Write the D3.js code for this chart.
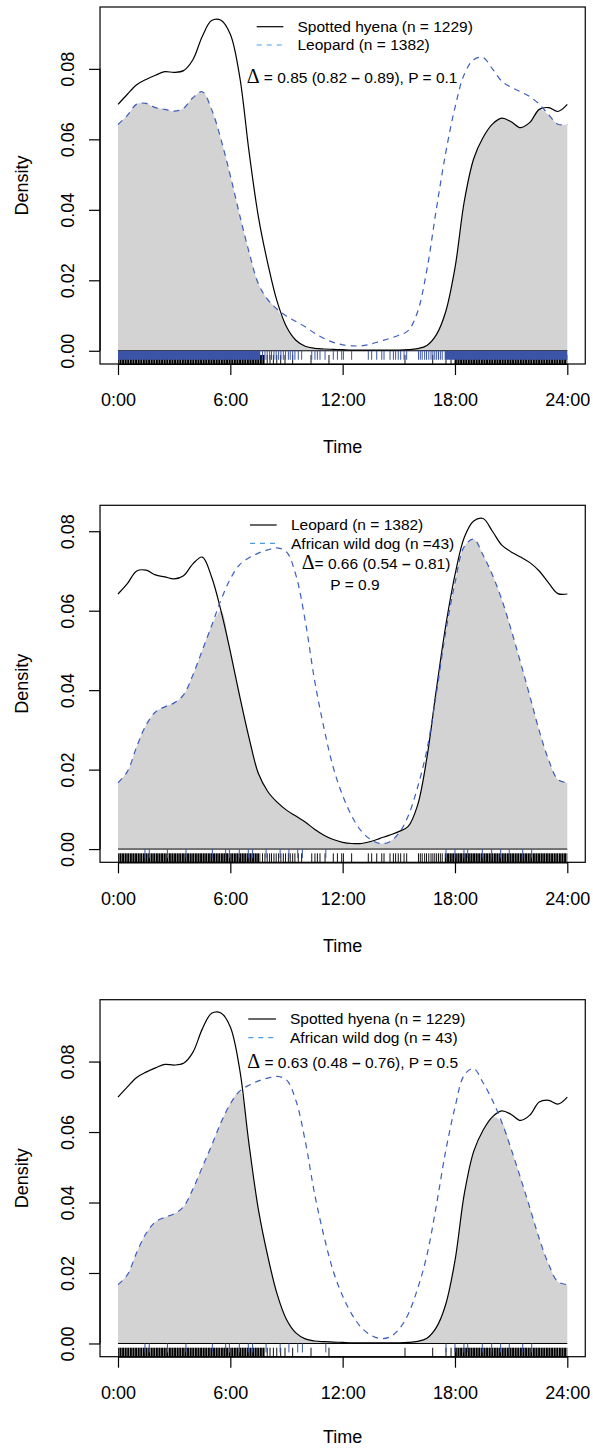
<!DOCTYPE html>
<html>
<head>
<meta charset="utf-8">
<script src="https://cdn.jsdelivr.net/npm/d3@7"></script>
<style>
  body { margin: 0; background: #fff; }
  svg { display: block; font-family: "Liberation Sans", Arial, Helvetica, sans-serif; }
</style>
</head>
<body>
<svg width="593" height="1448"></svg>
<script>
// time of day (hours) at which the densities were read
const hours = [0, 0.5, 1, 1.5, 2, 2.5, 3, 3.5, 4, 4.5, 5, 5.5, 6, 6.5, 7, 7.5, 8, 8.5, 9, 9.5,
  10, 10.5, 11, 11.5, 12, 12.5, 13, 13.5, 14, 14.5, 15, 15.5, 16, 16.5, 17, 17.5, 18, 18.5, 19, 19.5,
  20, 20.5, 21, 21.5, 22, 22.5, 23, 23.5, 24];

const hyenaDensity = [
  .0699, .0728, .0755, .0770, .0782, .0792, .0790, .0795, .0826, .0892,
  .0937, .0938, .0898, .0778, .0565, .0380, .0248, .0140, .0068, .0030,
  .0013, .0007, .0005, .0004, .0003, .0002, .0002, .0002, .0002, .0002,
  .0002, .0003, .0006, .0015, .0045, .0110, .0235, .0425, .0545, .0605,
  .0643, .0660, .0650, .0633, .0648, .0685, .0690, .0679, .0699];

const leopardDensity = [
  .0642, .0668, .0700, .0702, .0690, .0685, .0680, .0688, .0718, .0735,
  .0685, .0600, .0497, .0385, .0280, .0190, .0145, .0118, .0098, .0083,
  .0068, .0050, .0035, .0024, .0017, .0014, .0014, .0019, .0027, .0035,
  .0044, .0057, .0110, .0230, .0400, .0560, .0690, .0785, .0826, .0832,
  .0800, .0765, .0748, .0735, .0721, .0700, .0670, .0643, .0642];

const wildDogDensity = [
  .0167, .0195, .0258, .0312, .0345, .0358, .0368, .0388, .0438, .0500,
  .0562, .0627, .0680, .0716, .0733, .0745, .0753, .0758, .0748, .0690,
  .0575, .0425, .0305, .0205, .0135, .0082, .0045, .0024, .0014, .0018,
  .0040, .0083, .0155, .0250, .0390, .0545, .0670, .0762, .0780, .0740,
  .0690, .0628, .0552, .0470, .0385, .0298, .0225, .0175, .0167];

// rug: stretches so dense they print solid, plus single records
const hyenaRugBands = [[0, 7.85], [17.95, 24]];
const hyenaRugTimes = [7.97, 8.12, 8.3, 8.48, 8.69, 8.92, 9.33, 10.31, 11.27, 15.33, 16.81, 17.52, 17.79];
const leopardRugBands = [[0, 7.6], [17.45, 24]];
const leopardRugTimes = [7.72, 7.85, 7.97, 8.1, 8.2, 8.33, 8.45, 8.58, 8.7, 8.83, 8.95, 9.1, 9.2, 9.33,
  9.45, 9.63, 9.81, 10.35, 10.52, 10.65, 10.79, 11.06, 11.5, 11.72, 11.95, 12.04, 12.48, 13.37, 13.55,
  13.82, 14.09, 14.21, 14.53, 14.71, 14.83, 14.97, 15.1, 15.28, 15.42, 16.05, 16.15, 16.25, 16.38,
  16.48, 16.6, 16.72, 16.82, 16.92, 17.02, 17.12, 17.22, 17.32];
const wildDogRugBands = [];
const wildDogRugTimes = [1.44, 1.67, 2.64, 3.63, 5.04, 5.75, 5.95, 6.48, 6.96, 7.19, 7.91, 8.66, 9.13,
  9.6, 9.85, 11.1, 17.52, 18.0, 18.48, 18.68, 19.46, 19.96, 20.44, 20.9, 21.62, 22.1];

const timeTicks = [0, 6, 12, 18, 24];
const timeLabels = ["0:00", "6:00", "12:00", "18:00", "24:00"];
const densityTicks = [0, 0.02, 0.04, 0.06, 0.08];

const panelPairs = [["hyena", "leopard"], ["leopard", "wildDog"], ["hyena", "wildDog"]];
const panelLegends = [
  ["Spotted hyena (n = 1229)", "Leopard (n = 1382)"],
  ["Leopard (n = 1382)", "African wild dog (n =43)"],
  ["Spotted hyena (n = 1229)", "African wild dog (n = 43)"]
];
// overlap estimate text: [before dash, after dash, extra line]
const panelDeltas = [
  [" = 0.85 (0.82 ", " 0.89), P = 0.1", null],
  ["= 0.66 (0.54 ", " 0.81)", "P = 0.9"],
  [" = 0.63 (0.48 ", " 0.76), P = 0.5", null]
];

const species = {
  hyena: { density: hyenaDensity, bands: hyenaRugBands, times: hyenaRugTimes },
  leopard: { density: leopardDensity, bands: leopardRugBands, times: leopardRugTimes },
  wildDog: { density: wildDogDensity, bands: wildDogRugBands, times: wildDogRugTimes }
};

// layout of the three stacked plots
const layout = [
  { top: 7, line: [256.7, 283.3], textX: 297.5, rows: [26.7, 45], deltaX: 246.7, deltaY: 77.7, titleY: 83 },
  { top: 505.3, line: [250, 276.7], textX: 291, rows: [525, 543.3], deltaX: 301.7, deltaY: 564, pX: 355, pY: 584.3, titleY: 83 },
  { top: 999.7, line: [248.3, 276], textX: 290, rows: [1019, 1037.7], deltaX: 247.3, deltaY: 1062.3, titleY: 80 }
];
const boxH = 357;
const blueLine = "#3d5cbf";
const blueRug = "#3b54a8";
const blueKey = "#4a9de0";

const svg = d3.select("svg");
const x = d3.scaleLinear().domain([0, 24]).range([118, 567.3]);

// dense black rug prints as closely packed ticks, not a flat block
svg.append("defs").append("pattern")
  .attr("id", "rugTicks")
  .attr("patternUnits", "userSpaceOnUse")
  .attr("width", 2.6).attr("height", 20)
  .append("rect")
  .attr("width", 2.1).attr("height", 20)
  .attr("fill", "#000");

panelPairs.forEach((pair, p) => {
  const L = layout[p];
  const A = species[pair[0]];
  const B = species[pair[1]];
  const ymax = d3.max([d3.max(A.density), d3.max(B.density)]);
  const bottom = L.top + boxH;
  const y = d3.scaleLinear().domain([-0.04 * ymax, 1.04 * ymax]).range([bottom, L.top]);
  const g = svg.append("g");

  // shaded overlap
  const overlap = hours.map((h, i) => Math.min(A.density[i], B.density[i]));
  g.append("path")
    .datum(overlap)
    .attr("fill", "#d3d3d3")
    .attr("d", d3.area()
      .x((d, i) => x(hours[i]))
      .y0(y(0))
      .y1(d => y(d))
      .curve(d3.curveCatmullRom.alpha(0.5)));

  g.append("line")
    .attr("x1", x(0)).attr("x2", x(24))
    .attr("y1", y(0)).attr("y2", y(0))
    .attr("stroke", "#000").attr("stroke-width", 1);

  // rugs: first species up from the frame, second species down from zero
  function rug(sp, y1, y2, color, bandFill) {
    g.append("g").selectAll("rect").data(sp.bands).join("rect")
      .attr("x", d => x(d[0]))
      .attr("width", d => x(d[1]) - x(d[0]))
      .attr("y", Math.min(y1, y2))
      .attr("height", Math.abs(y2 - y1))
      .attr("fill", bandFill);
    g.append("g").selectAll("line").data(sp.times).join("line")
      .attr("x1", d => x(d)).attr("x2", d => x(d))
      .attr("y1", y1).attr("y2", y2)
      .attr("stroke", color).attr("stroke-width", 1);
  }
  rug(A, bottom - 9, bottom, "#111", "url(#rugTicks)");
  rug(B, y(0), y(0) + 9, blueRug, blueRug);

  const line = d3.line()
    .x((d, i) => x(hours[i]))
    .y(d => y(d))
    .curve(d3.curveCatmullRom.alpha(0.5));

  g.append("path").datum(A.density)
    .attr("fill", "none").attr("stroke", "#000").attr("stroke-width", 1.2)
    .attr("d", line);
  g.append("path").datum(B.density)
    .attr("fill", "none").attr("stroke", blueLine).attr("stroke-width", 1.2)
    .attr("stroke-dasharray", "6,5")
    .attr("d", line);

  // frame
  g.append("rect")
    .attr("x", x(-0.96)).attr("y", L.top)
    .attr("width", x(24.96) - x(-0.96)).attr("height", boxH)
    .attr("fill", "none").attr("stroke", "#000").attr("stroke-width", 1.2);

  // axes
  const xAxis = g.append("g")
    .attr("transform", `translate(0,${bottom})`)
    .call(d3.axisBottom(x).tickValues(timeTicks)
      .tickFormat((d, i) => timeLabels[i])
      .tickSize(11).tickSizeOuter(0).tickPadding(18.5));
  xAxis.selectAll("text").attr("font-size", 18).attr("fill", "#000").attr("font-family", null);
  xAxis.selectAll("line, path").attr("stroke", "#000").attr("stroke-width", 1.2);

  const yAxis = g.append("g")
    .attr("transform", `translate(${x(-0.96)},0)`)
    .call(d3.axisLeft(y).tickValues(densityTicks)
      .tickFormat(d3.format(".2f"))
      .tickSize(11).tickSizeOuter(0));
  yAxis.select(".domain").remove();
  yAxis.selectAll("line").attr("stroke", "#000").attr("stroke-width", 1.2);
  yAxis.append("line")
    .attr("x1", 0).attr("x2", 0).attr("y1", y(0)).attr("y2", y(0.08))
    .attr("stroke", "#000").attr("stroke-width", 1.2);
  yAxis.selectAll("text")
    .attr("x", null).attr("dy", "0.35em")
    .attr("transform", `translate(${67.5 - x(-0.96)},0) rotate(-90)`)
    .attr("text-anchor", "middle")
    .attr("font-size", 18).attr("fill", "#000").attr("font-family", null);

  g.append("text")
    .attr("transform", `translate(22,${L.top + boxH / 2}) rotate(-90)`)
    .attr("text-anchor", "middle").attr("dy", "0.35em")
    .attr("font-size", 18)
    .text("Density");
  g.append("text")
    .attr("x", x(12)).attr("y", bottom + L.titleY)
    .attr("text-anchor", "middle").attr("dy", "0.35em")
    .attr("font-size", 18)
    .text("Time");

  // legend
  const keys = g.append("g");
  keys.selectAll("line").data(L.rows).join("line")
    .attr("x1", L.line[0]).attr("x2", L.line[1])
    .attr("y1", d => d).attr("y2", d => d)
    .attr("stroke", (d, i) => i === 0 ? "#000" : blueKey)
    .attr("stroke-width", 1.2)
    .attr("stroke-dasharray", (d, i) => i === 0 ? null : "5,5");
  keys.selectAll("text").data(panelLegends[p]).join("text")
    .attr("x", L.textX).attr("y", (d, i) => L.rows[i])
    .attr("dy", "0.35em").attr("font-size", 15.5)
    .text(d => d);

  const dt = panelDeltas[p];
  const delta = g.append("text")
    .attr("x", L.deltaX).attr("y", L.deltaY).attr("dy", "0.35em")
    .attr("font-size", 15.5);
  delta.append("tspan").attr("font-family", "'Liberation Serif', 'DejaVu Serif', serif")
    .attr("font-size", 20).text("\u0394");
  delta.append("tspan").text(dt[0]);
  delta.append("tspan").attr("font-weight", "bold").text("\u2013");
  delta.append("tspan").text(dt[1]);
  if (dt[2]) {
    g.append("text")
      .attr("x", L.pX).attr("y", L.pY).attr("dy", "0.35em")
      .attr("text-anchor", "middle").attr("font-size", 15.5)
      .text(dt[2]);
  }
});
</script>
</body>
</html>
